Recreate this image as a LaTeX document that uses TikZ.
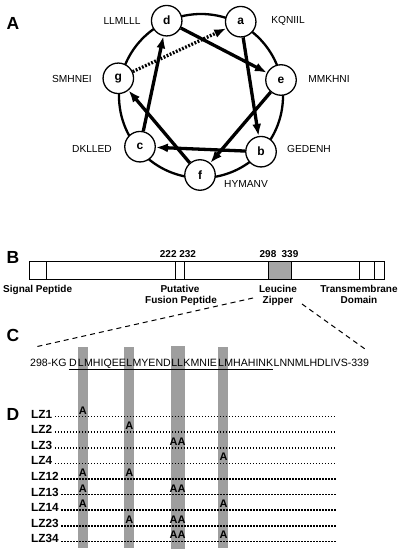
\documentclass[tikz,border=0pt]{standalone}
\usepackage{fontspec}
\setmainfont{Liberation Sans}
\usetikzlibrary{arrows.meta,calc}
\pgfdeclarelayer{bg}
\pgfsetlayers{bg,main}
\definecolor{bargray}{RGB}{158,158,158}
\definecolor{boxgray}{RGB}{165,165,165}
\begin{document}
\begin{tikzpicture}[x=1pt,y=-1pt,
  panel/.style={font=\fontsize{17.5}{17.5}\selectfont\bfseries, inner sep=0},
  res/.style={circle, draw, line width=1.3pt, fill=white, minimum size=30.5pt, inner sep=0, font=\fontsize{12}{12}\selectfont\bfseries},
  heplab/.style={font=\fontsize{10.2}{10.2}\selectfont, inner sep=0},
  hx/.style={line width=3.3pt, -{Latex[length=12pt,width=9pt]}},
  hxdot/.style={hx, dash pattern=on 1.8pt off 1.6pt},
  blab/.style={font=\fontsize{10}{10}\selectfont\bfseries, inner sep=0, anchor=base},
  seg/.style={font=\fontsize{10.6}{11}\selectfont, inner sep=0, anchor=base west},
  rowlab/.style={font=\fontsize{11.8}{11.8}\selectfont\bfseries, inner sep=0, anchor=base west},
  mut/.style={font=\fontsize{11}{11}\selectfont\bfseries, inner sep=0, anchor=base},
  dotline/.style={line width=1.6pt, dash pattern=on 1.4pt off 1.6pt},
  zoomline/.style={line width=1pt, dash pattern=on 5pt off 4pt}
]
\useasboundingbox (0,0) rectangle (402,551);

% ---------- Panel A ----------
\node[panel] (pA) at (13,23) {A};
\draw[line width=2.3pt] (201,96) circle[radius=82];
\node[res] (d) at (166.7,20.7) {d};
\node[res] (a) at (240.7,21.7) {a};
\node[res] (e) at (281,80) {e};
\node[res] (b) at (261,151.7) {b};
\node[res] (f) at (200,175) {f};
\node[res] (c) at (140,146.7) {c};
\node[res] (g) at (118.3,78.3) {g};
\node[heplab] (ld) at (122,21) {LLMLLL};
\node[heplab] (la) at (288,21) {KQNIIL};
\node[heplab] (le) at (329,79) {MMKHNI};
\node[heplab] (lb) at (309,149) {GEDENH};
\node[heplab] (lf) at (246,184) {HYMANV};
\node[heplab] (lc) at (92,149) {DKLLED};
\node[heplab] (lg) at (72,79) {SMHNEI};
\draw[hx] (a) -- (b);
\draw[hx] (b) -- (c);
\draw[hx] (c) -- (d);
\draw[hx] (d) -- (e);
\draw[hx] (e) -- (f);
\draw[hx] (f) -- (g);
\draw[hxdot] (g) -- (a);

% ---------- Panel B ----------
\node[panel] (pB) at (13,257) {B};
\filldraw[fill=boxgray, line width=1pt] (268,261) rectangle (291,279);
\foreach \xx in {46,175,184,359,374} \draw[line width=1pt] (\xx,261) -- (\xx,279);
\draw[line width=1pt] (29,261) rectangle (384,279);
\node[blab] (n222) at (178,257) {222 232};
\node[blab] (n298) at (268,257) {298};
\node[blab] (n339) at (290,257) {339};
\node[blab, anchor=base west] (sp) at (3,292) {Signal Peptide};
\node[blab] (put) at (180,292) {Putative};
\node[blab] (fus) at (181,303) {Fusion Peptide};
\node[blab] (leu) at (278,292) {Leucine};
\node[blab] (zip) at (278,303) {Zipper};
\node[blab] (tm) at (359,292) {Transmembrane};
\node[blab] (dom) at (359,303) {Domain};
\coordinate (lzl) at (253,298);
\coordinate (seql) at (35,347);
\coordinate (lzr) at (302,304);
\coordinate (seqr) at (365,349);
\draw[zoomline] (lzl) -- (seql);
\draw[zoomline] (lzr) -- (seqr);

% ---------- Panel C ----------
\node[panel] (pC) at (13,335) {C};
\node[seg] (s0) at (30,366) {298-KG};
\node[seg] (s1) at ([xshift=2pt]s0.base east) {D};
\node[seg] (s2) at ([xshift=0.6pt]s1.base east) {L};
\node[seg] (s3) at (s2.base east) {MHIQEE};
\node[seg] (s4) at (s3.base east) {L};
\node[seg] (s5) at (s4.base east) {MYEND};
\node[seg] (s6) at (s5.base east) {LL};
\node[seg] (s7) at (s6.base east) {KMNIE};
\node[seg] (s8) at ([xshift=0.6pt]s7.base east) {L};
\node[seg] (s9) at (s8.base east) {MHAHINK};
\node[seg] (s10) at (s9.base east) {LNNMLHDLIVS-339};
\draw[line width=0.8pt] ($(s1.base west)+(0,3)$) -- ($(s9.base east)+(0,3)$);
\coordinate (bx1) at ($(s2.base)+(2,0)$);
\coordinate (bx2) at ($(s4.base)+(0,0)$);
\coordinate (bx3) at ($(s6.base)+(0.5,0)$);
\coordinate (bx4) at ($(s8.base)+(2.5,0)$);
\begin{pgfonlayer}{bg}
\fill[bargray] ($(bx1 |- 0,347)+(-5,0)$) rectangle ($(bx1 |- 0,548)+(5,0)$);
\fill[bargray] ($(bx2 |- 0,347)+(-5,0)$) rectangle ($(bx2 |- 0,548)+(5,0)$);
\fill[bargray] ($(bx3 |- 0,346)+(-7,0)$) rectangle ($(bx3 |- 0,549)+(7,0)$);
\fill[bargray] ($(bx4 |- 0,347)+(-5,0)$) rectangle ($(bx4 |- 0,548)+(5,0)$);
\end{pgfonlayer}

% ---------- Panel D ----------
\node[panel] (pD) at (13,414) {D};
\foreach \lab [count=\i from 0] in {LZ1,LZ2,LZ3,LZ4,LZ12,LZ13,LZ14,LZ23,LZ34} {
  \pgfmathsetmacro{\yy}{418+15.6*\i}
  \node[rowlab] (r\i) at (31,\yy) {\lab};
  \coordinate (e\i) at (336,\yy-1.5);
  \draw[dotline] ([xshift=2.5pt,yshift=1.5pt]r\i.base east) -- (e\i);
}
\node[mut, yshift=4pt] (m01) at (bx1 |- r0.base) {A};
\node[mut, yshift=4pt] (m12) at (bx2 |- r1.base) {A};
\node[mut, yshift=4pt] (m23) at (bx3 |- r2.base) {AA};
\node[mut, yshift=4pt] (m34) at (bx4 |- r3.base) {A};
\node[mut, yshift=4pt] (m41) at (bx1 |- r4.base) {A};
\node[mut, yshift=4pt] (m42) at (bx2 |- r4.base) {A};
\node[mut, yshift=4pt] (m51) at (bx1 |- r5.base) {A};
\node[mut, yshift=4pt] (m53) at (bx3 |- r5.base) {AA};
\node[mut, yshift=4pt] (m61) at (bx1 |- r6.base) {A};
\node[mut, yshift=4pt] (m64) at (bx4 |- r6.base) {A};
\node[mut, yshift=4pt] (m72) at (bx2 |- r7.base) {A};
\node[mut, yshift=4pt] (m73) at (bx3 |- r7.base) {AA};
\node[mut, yshift=4pt] (m83) at (bx3 |- r8.base) {AA};
\node[mut, yshift=4pt] (m84) at (bx4 |- r8.base) {A};
\end{tikzpicture}
\end{document}
